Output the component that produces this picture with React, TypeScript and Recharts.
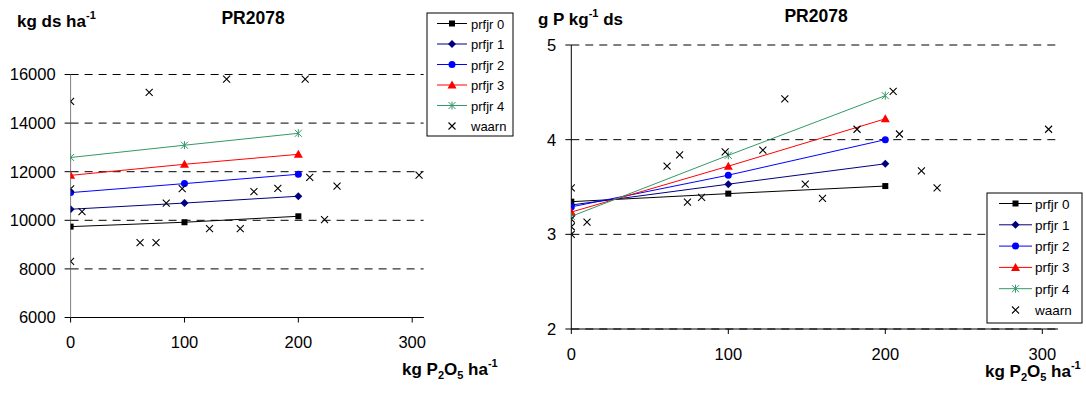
import React from 'react';
import { ComposedChart, Line, Scatter, XAxis, YAxis, CartesianGrid } from 'recharts';

const FONT = '"Liberation Sans", Arial, sans-serif';

const xDoses = [0, 100, 200];
const seriesNames = ['prfjr 0', 'prfjr 1', 'prfjr 2', 'prfjr 3', 'prfjr 4'];
const seriesColors = ['#000000', '#000080', '#0000FF', '#FF0000', '#339966'];
const seriesMarkers = ['square', 'diamond', 'circle', 'triangle', 'star'];

// Left chart: kg ds ha-1
const leftP0 = [9740, 9920, 10165];
const leftP1 = [10455, 10710, 10990];
const leftP2 = [11140, 11510, 11895];
const leftP3 = [11850, 12305, 12715];
const leftP4 = [12585, 13090, 13580];
const leftObsX = [0, 69, 137, 206, 210, 234, 306, 161, 182, 98, 0, 10, 84, 122, 149, 223, 61, 75, 0];
const leftObsY = [14890, 15260, 15810, 15810, 11770, 11410, 11860, 11180, 11310, 11300, 11290, 10360, 10710, 9660, 9660, 10030, 9080, 9080, 8310];
const leftYTicks = [6000, 8000, 10000, 12000, 14000, 16000];

// Right chart: g P kg-1 ds
const rightP0 = [3.345, 3.43, 3.51];
const rightP1 = [3.31, 3.53, 3.745];
const rightP2 = [3.29, 3.625, 4.0];
const rightP3 = [3.235, 3.72, 4.22];
const rightP4 = [3.19, 3.835, 4.465];
const rightObsX = [0, 61, 69, 98, 122, 136, 182, 205, 209, 223, 233, 304, 149, 74, 83, 160, 10, 0, 0, 0];
const rightObsY = [3.49, 3.72, 3.84, 3.87, 3.89, 4.43, 4.11, 4.51, 4.06, 3.67, 3.49, 4.11, 3.53, 3.34, 3.39, 3.38, 3.13, 3.0, 3.16, 3.08];
const rightYTicks = [2, 3, 4, 5];

const xTicks = [0, 100, 200, 300];

const mk = (arr: number[]) => xDoses.map((x, i) => ({ x, y: arr[i] }));
const mkObs = (xs: number[], ys: number[]) => xs.map((x, i) => ({ x, y: ys[i] }));

function Marker({ kind, cx, cy, color }: { kind: string; cx: number; cy: number; color: string }) {
  switch (kind) {
    case 'square':
      return <rect x={cx - 3} y={cy - 3} width={6} height={6} fill={color} />;
    case 'diamond':
      return <polygon points={`${cx},${cy - 4} ${cx + 4},${cy} ${cx},${cy + 4} ${cx - 4},${cy}`} fill={color} />;
    case 'circle':
      return <circle cx={cx} cy={cy} r={3.5} fill={color} />;
    case 'triangle':
      return <polygon points={`${cx},${cy - 4.5} ${cx + 4.5},${cy + 3.5} ${cx - 4.5},${cy + 3.5}`} fill={color} />;
    case 'star':
      return (
        <path
          d={`M${cx - 3.5},${cy - 3.5} L${cx + 3.5},${cy + 3.5} M${cx + 3.5},${cy - 3.5} L${cx - 3.5},${cy + 3.5} M${cx},${cy - 4} L${cx},${cy + 4}`}
          stroke={color}
          strokeWidth={1}
          fill="none"
        />
      );
    case 'cross':
    default:
      return (
        <path
          d={`M${cx - 3.5},${cy - 3.5} L${cx + 3.5},${cy + 3.5} M${cx + 3.5},${cy - 3.5} L${cx - 3.5},${cy + 3.5}`}
          stroke="#000"
          strokeWidth={1.1}
          fill="none"
        />
      );
  }
}

const tickStyle = { fontSize: 16.5, fill: '#000', fontFamily: FONT };

function Panel({
  series,
  obs,
  yDomain,
  yTicks,
  width,
  margin,
  yAxisWidth,
  yAxisColor,
}: {
  series: number[][];
  obs: { x: number; y: number }[];
  yDomain: [number, number];
  yTicks: number[];
  width: number;
  margin: { top: number; right: number; left: number; bottom: number };
  yAxisWidth: number;
  yAxisColor: string;
}) {
  return (
    <ComposedChart width={width} height={393} margin={margin}>
      <CartesianGrid horizontal vertical={false} stroke="#000" strokeDasharray="8 6" />
      <XAxis
        type="number"
        dataKey="x"
        domain={[0, 310]}
        ticks={xTicks}
        allowDataOverflow
        height={40}
        tick={tickStyle}
        tickSize={5}
        tickMargin={14}
        axisLine={{ stroke: '#000' }}
        tickLine={{ stroke: '#000' }}
      />
      <YAxis
        type="number"
        dataKey="y"
        domain={yDomain}
        ticks={yTicks}
        allowDataOverflow
        width={yAxisWidth}
        tick={tickStyle}
        tickSize={6}
        tickMargin={9}
        axisLine={{ stroke: yAxisColor }}
        tickLine={{ stroke: '#000' }}
      />
      {series.map((arr, si) => (
        <Line
          key={seriesNames[si]}
          data={mk(arr)}
          dataKey="y"
          type="linear"
          stroke={seriesColors[si]}
          strokeWidth={1}
          isAnimationActive={false}
          dot={(p: any) => (
            <Marker key={`m${si}-${p.index}`} kind={seriesMarkers[si]} cx={p.cx} cy={p.cy} color={seriesColors[si]} />
          )}
          activeDot={false}
        />
      ))}
      <Scatter
        data={obs}
        dataKey="y"
        isAnimationActive={false}
        shape={(p: any) => <Marker kind="cross" cx={p.cx} cy={p.cy} color="#000" />}
      />
    </ComposedChart>
  );
}

function LegendBox({
  x,
  y,
  w,
  h,
  row0,
  rowStep,
  lineX0,
  lineX1,
  textX,
  fontSize,
}: {
  x: number;
  y: number;
  w: number;
  h: number;
  row0: number;
  rowStep: number;
  lineX0: number;
  lineX1: number;
  textX: number;
  fontSize: number;
}) {
  const mid = (lineX0 + lineX1) / 2;
  return (
    <g>
      <rect x={x} y={y} width={w} height={h} fill="#fff" stroke="#000" strokeWidth={1} />
      {seriesNames.map((n, i) => {
        const cy = row0 + i * rowStep;
        return (
          <g key={n}>
            <line x1={lineX0} x2={lineX1} y1={cy} y2={cy} stroke={seriesColors[i]} strokeWidth={1} />
            <Marker kind={seriesMarkers[i]} cx={mid} cy={cy} color={seriesColors[i]} />
            <text x={textX} y={cy + 5} fontSize={fontSize} fontFamily={FONT} fill="#000">
              {n}
            </text>
          </g>
        );
      })}
      <Marker kind="cross" cx={mid} cy={row0 + 5 * rowStep} color="#000" />
      <text x={textX} y={row0 + 5 * rowStep + 5} fontSize={fontSize} fontFamily={FONT} fill="#000">
        waarn
      </text>
    </g>
  );
}

export default function App() {
  const leftSeries = [leftP0, leftP1, leftP2, leftP3, leftP4];
  const rightSeries = [rightP0, rightP1, rightP2, rightP3, rightP4];
  return (
    <div style={{ position: 'absolute', left: 0, top: 0, width: 1086, height: 393, background: '#fff', fontFamily: FONT }}>
      <div style={{ position: 'absolute', left: 0, top: 0 }}>
        <Panel
          series={leftSeries}
          obs={mkObs(leftObsX, leftObsY)}
          yDomain={[6000, 16000]}
          yTicks={leftYTicks}
          width={540}
          margin={{ top: 74.5, right: 116.4, left: 0, bottom: 35.5 }}
          yAxisWidth={70.6}
          yAxisColor="#808080"
        />
      </div>
      <div style={{ position: 'absolute', left: 540, top: 0 }}>
        <Panel
          series={rightSeries}
          obs={mkObs(rightObsX, rightObsY)}
          yDomain={[2, 5]}
          yTicks={rightYTicks}
          width={546}
          margin={{ top: 45, right: 28, left: 0, bottom: 24 }}
          yAxisWidth={31.3}
          yAxisColor="#000"
        />
      </div>
      <svg width={1086} height={393} style={{ position: 'absolute', left: 0, top: 0, pointerEvents: 'none' }}>
        {/* Left titles */}
        <text x={17} y={27} fontSize={17} fontWeight="bold" fontFamily={FONT} fill="#000">
          kg ds ha<tspan fontSize={11} dy={-8}>-1</tspan>
        </text>
        <text x={253} y={24} fontSize={17.5} fontWeight="bold" fontFamily={FONT} fill="#000" textAnchor="middle">
          PR2078
        </text>
        <text x={402} y={375} fontSize={17} fontWeight="bold" fontFamily={FONT} fill="#000">
          kg P<tspan fontSize={11} dy={4}>2</tspan>
          <tspan dy={-4}>O</tspan>
          <tspan fontSize={11} dy={4}>5</tspan>
          <tspan dy={-4}> ha</tspan>
          <tspan fontSize={11} dy={-8}>-1</tspan>
        </text>
        {/* Right titles */}
        <text x={538} y={25} fontSize={17} fontWeight="bold" fontFamily={FONT} fill="#000">
          g P kg<tspan fontSize={11} dy={-8}>-1</tspan>
          <tspan dy={8}> ds</tspan>
        </text>
        <text x={816} y={22} fontSize={17.5} fontWeight="bold" fontFamily={FONT} fill="#000" textAnchor="middle">
          PR2078
        </text>
        <text x={985} y={377} fontSize={17} fontWeight="bold" fontFamily={FONT} fill="#000">
          kg P<tspan fontSize={11} dy={4}>2</tspan>
          <tspan dy={-4}>O</tspan>
          <tspan fontSize={11} dy={4}>5</tspan>
          <tspan dy={-4}> ha</tspan>
          <tspan fontSize={11} dy={-8}>-1</tspan>
        </text>
        <LegendBox x={427} y={13} w={86} h={123} row0={23.5} rowStep={20.5} lineX0={437} lineX1={467} textX={471} fontSize={13} />
        <LegendBox x={987} y={193} w={95} h={130} row0={203.5} rowStep={21.3} lineX0={999} lineX1={1032} textX={1035} fontSize={13.5} />
      </svg>
    </div>
  );
}
